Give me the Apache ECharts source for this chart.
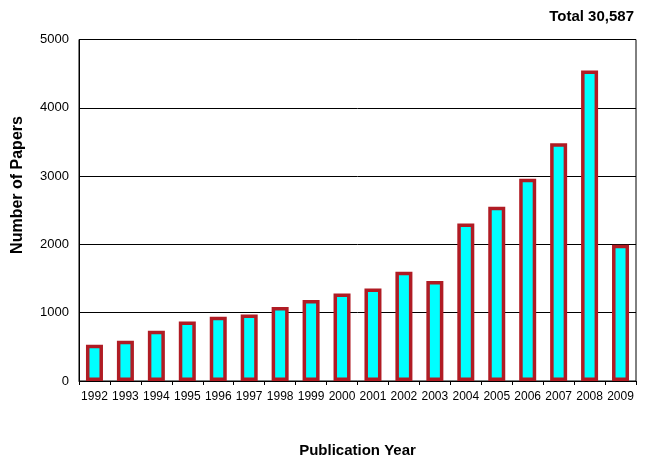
<!DOCTYPE html>
<html>
<head>
<meta charset="utf-8">
<script src="https://cdn.jsdelivr.net/npm/echarts@6/dist/echarts.min.js"></script>
<style>
html,body{margin:0;padding:0;background:#fff;}
#chart{width:645px;height:474px;}
</style>
</head>
<body>
<div id="chart"></div>
<script>
var years = ['1992','1993','1994','1995','1996','1997','1998','1999','2000','2001','2002','2003','2004','2005','2006','2007','2008','2009'];
var papers = [530, 590, 735, 870, 940, 975, 1085, 1185, 1280, 1355, 1600, 1465, 2305, 2550, 2960, 3480, 4545, 1995];
var yTicks = [0, 1000, 2000, 3000, 4000, 5000];

var font = 'Arial, "Liberation Sans", sans-serif';
var chart = echarts.init(document.getElementById('chart'));
chart.setOption({
  animation: false,
  backgroundColor: '#fff',
  title: {
    text: 'Total 30,587',
    right: 6,
    top: 4,
    textStyle: {fontFamily: font, fontWeight: 'bold', fontSize: 15, color: '#000'}
  },
  grid: {
    left: 79, right: 9, top: 39.5, bottom: 93,
    show: true, borderColor: '#000', borderWidth: 1, backgroundColor: '#fff'
  },
  xAxis: {
    type: 'category',
    data: years,
    name: 'Publication Year',
    nameLocation: 'middle',
    nameGap: 62,
    nameTextStyle: {fontFamily: font, fontWeight: 'bold', fontSize: 15, color: '#000'},
    axisLine: {lineStyle: {color: '#000', width: 1}},
    axisTick: {show: true, length: 4, lineStyle: {color: '#000'}},
    axisLabel: {fontFamily: font, fontSize: 12, color: '#000', margin: 10, interval: 0}
  },
  yAxis: {
    type: 'value',
    min: yTicks[0], max: yTicks[yTicks.length - 1], interval: 1000,
    axisLine: {show: true, lineStyle: {color: '#000', width: 1}},
    axisTick: {show: false},
    splitLine: {show: true, lineStyle: {color: '#000', width: 1}},
    axisLabel: {fontFamily: font, fontSize: 13, color: '#000', margin: 10,
      formatter: function (v) { return String(v); }}
  },
  graphic: [{
    type: 'text',
    x: 18, y: 185,
    rotation: Math.PI / 2,
    style: {
      text: 'Number of Papers',
      font: 'bold 16px ' + font,
      fill: '#000',
      align: 'center',
      verticalAlign: 'middle'
    }
  }],
  series: [{
    type: 'bar',
    data: papers,
    barWidth: 17,
    itemStyle: {color: '#00FFFF', borderColor: '#B01C24', borderWidth: 3.5}
  }]
});
</script>
</body>
</html>
